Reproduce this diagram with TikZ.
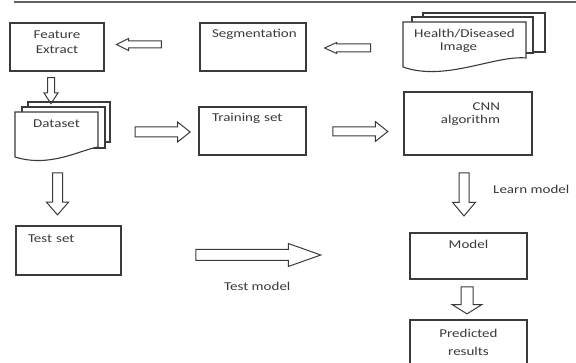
\documentclass[tikz,border=0pt]{standalone}
\usepackage{fontspec}
\setmainfont{Carlito}[FakeStretch=1.25]
\usetikzlibrary{shapes.arrows}
\definecolor{ink}{HTML}{3A3A3A}

\begin{document}
\begin{tikzpicture}[
  x=1pt, y=-1pt,
  box/.style={draw=ink, line width=1.1pt, inner sep=0pt, text=ink,
              font=\fontsize{12}{15}\selectfont},
  doctext/.style={inner sep=0pt, text=ink, align=center,
              font=\fontsize{12}{15}\selectfont},
  doc/.style={draw=ink, line width=1.1pt, fill=white},
  blockarrow/.style n args={4}{single arrow, draw=ink, line width=1pt,
              inner xsep=0pt, inner ysep=#2, minimum height=#1,
              single arrow head extend=#3, single arrow tip angle=#4},
  note/.style={text=ink, inner sep=0pt, font=\fontsize{12}{15}\selectfont}
]
\useasboundingbox (0,0) rectangle (576,363);
\draw[ink!80, line width=2.5pt] (14,2) -- (576,2);

% stacked documents
\draw[doc] (423,13) rectangle (545,52);
\draw[doc] (412,17) rectangle (533,53);
\draw[doc] (403,22) -- (526,22) -- (526,58)
  .. controls (495,55) and (445,82) .. (403,67) -- cycle;
\node[doctext, text width=123pt, text height=16pt, text depth=29pt] (image)
  at (464.5,44.5) {Health/Diseased\\[-2pt]Image\hspace*{12pt}};

\draw[doc] (28,102) rectangle (110,142);
\draw[doc] (22,107) rectangle (105,148);
\draw[doc] (15,112) -- (98,112) -- (98,147)
  .. controls (80,150) and (50,168) .. (15,157) -- cycle;
\node[doctext, text width=83pt, text height=16pt, text depth=29pt] (dataset)
  at (56.5,134.5) {Dataset};

% boxes
\node[box, text width=94pt, align=center, text height=16pt, text depth=32pt]
  (feat) at (57,47) {Feature\\Extract};
\node[box, inner xsep=12pt, text width=82pt, align=left, text height=15pt, text depth=33pt]
  (seg) at (253,47) {Segmentation};
\node[box, inner xsep=13pt, text width=81pt, align=left, text height=15pt, text depth=33pt]
  (train) at (252.5,131) {Training set};
\node[box, inner xsep=32pt, text width=64pt, align=right, text height=19pt, text depth=44pt]
  (cnn) at (468,123.5) {CNN\\[-2pt]algorithm};
\node[box, inner xsep=12pt, text width=81pt, align=left, text height=17pt, text depth=32pt]
  (test) at (68.5,250.5) {Test set};
\node[box, text width=117pt, align=center, text height=16pt, text depth=30pt]
  (model) at (468.5,256) {Model};
\node[box, text width=117pt, align=center, text height=18pt, text depth=34pt]
  (pred) at (468.5,346) {Predicted\\[3pt]results};

% block arrows
\node[blockarrow={45pt}{3pt}{2.5pt}{53}, rotate=180] (a1) at (142.5,44.5) {};
\node[blockarrow={46pt}{3.5pt}{1.5pt}{49}, rotate=180] (a2) at (352,48) {};
\node[blockarrow={26pt}{3pt}{3.5pt}{66}, rotate=-90] (a3) at (51,88) {};
\node[blockarrow={55pt}{4.5pt}{5pt}{77}] (a4) at (159.5,132) {};
\node[blockarrow={55pt}{4pt}{5.5pt}{77}] (a5) at (357.5,131.5) {};
\node[blockarrow={43pt}{4.5pt}{6.5pt}{80}, rotate=-90] (a6) at (464,191.5) {};
\node[blockarrow={27pt}{5.5pt}{9pt}{116}, rotate=-90] (a7) at (467,298.5) {};
\node[blockarrow={42pt}{4.5pt}{6pt}{82}, rotate=-90] (a8) at (57.5,191) {};
\node[blockarrow={125pt}{5pt}{6pt}{39}] (a9) at (250.5,255) {};

\node[note, anchor=base west] (learn) at (493,194) {Learn model};
\node[note, anchor=base west] (testm) at (224,291) {Test model};

\end{tikzpicture}
\end{document}
